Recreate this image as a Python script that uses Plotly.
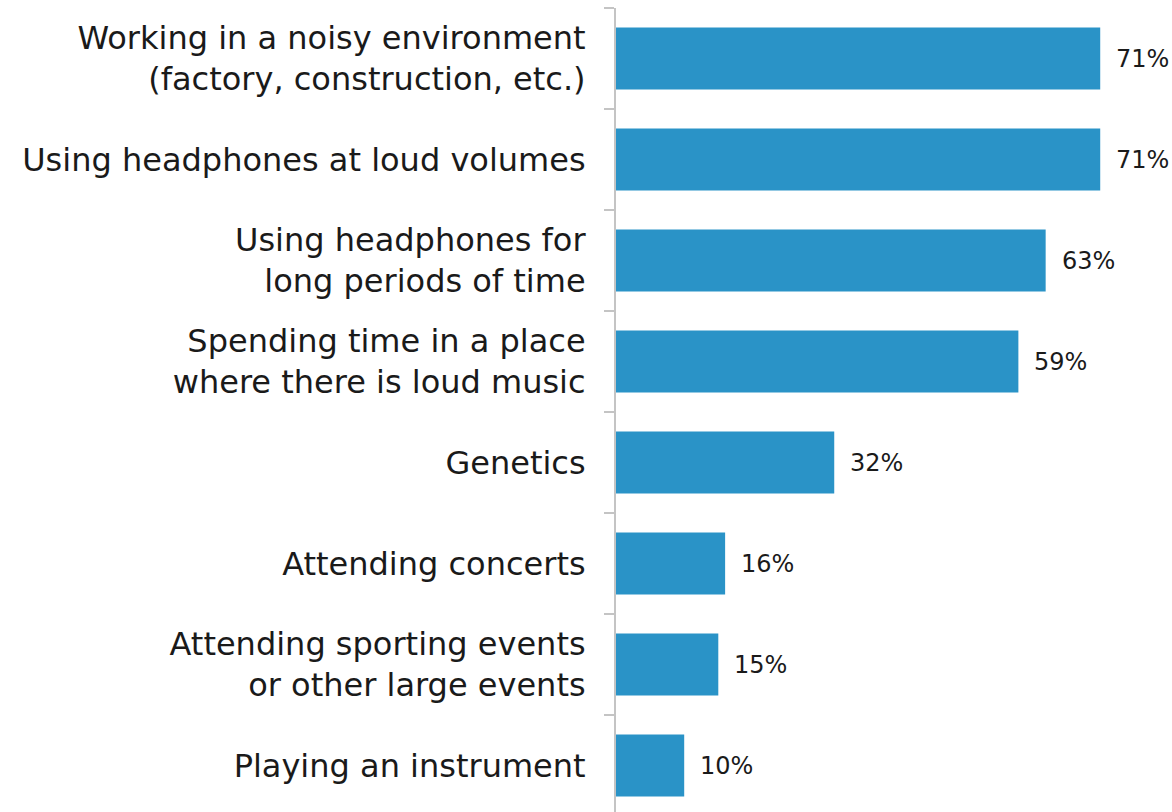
import plotly.graph_objects as go

# Survey: perceived causes of hearing loss (share of respondents, %)
categories = [
    "Working in a noisy environment<br>(factory, construction, etc.)",
    "Using headphones at loud volumes",
    "Using headphones for<br>long periods of time",
    "Spending time in a place<br>where there is loud music",
    "Genetics",
    "Attending concerts",
    "Attending sporting events<br>or other large events",
    "Playing an instrument",
]
values = [71, 71, 63, 59, 32, 16, 15, 10]

BAR_COLOR = "#2a93c7"
TEXT_COLOR = "#1a1a1a"
AXIS_COLOR = "#c4c4c4"
FONT = "DejaVu Sans"

W, H = 1172, 812
m_l, m_r, m_t, m_b = 616, 0, 8, 0
slot = 101.0  # pixel height per category
plot_h = H - m_t - m_b
n = len(categories)

fig = go.Figure(
    go.Bar(
        x=values,
        y=categories,
        orientation="h",
        width=0.615,
        marker=dict(color=BAR_COLOR, line=dict(width=0)),
        hoverinfo="skip",
    )
)

for cat, v in zip(categories, values):
    fig.add_annotation(
        x=v, y=cat, text=f"{v}%", showarrow=False,
        xanchor="left", yanchor="middle", xshift=14,
        font=dict(family=FONT, size=24, color=TEXT_COLOR),
    )

fig.update_layout(
    width=W, height=H,
    margin=dict(l=m_l, r=m_r, t=m_t, b=m_b, pad=0),
    paper_bgcolor="white", plot_bgcolor="white",
    showlegend=False,
    font=dict(family=FONT, color=TEXT_COLOR),
)

plot_w = W - m_l - m_r
fig.update_xaxes(visible=False, range=[0, plot_w / 6.82], showgrid=False, zeroline=False)

top = n - 0.5
fig.update_yaxes(
    type="category",
    categoryorder="array",
    categoryarray=categories[::-1],
    range=[top - plot_h / slot, top],
    showline=True, linecolor=AXIS_COLOR, linewidth=2,
    ticks="outside", tickson="boundaries", ticklen=10, tickwidth=1.5, tickcolor=AXIS_COLOR,
    ticklabelstandoff=22,
    tickfont=dict(family=FONT, size=32, color=TEXT_COLOR),
    showgrid=False, zeroline=False,
)

fig.write_html("out.html")
